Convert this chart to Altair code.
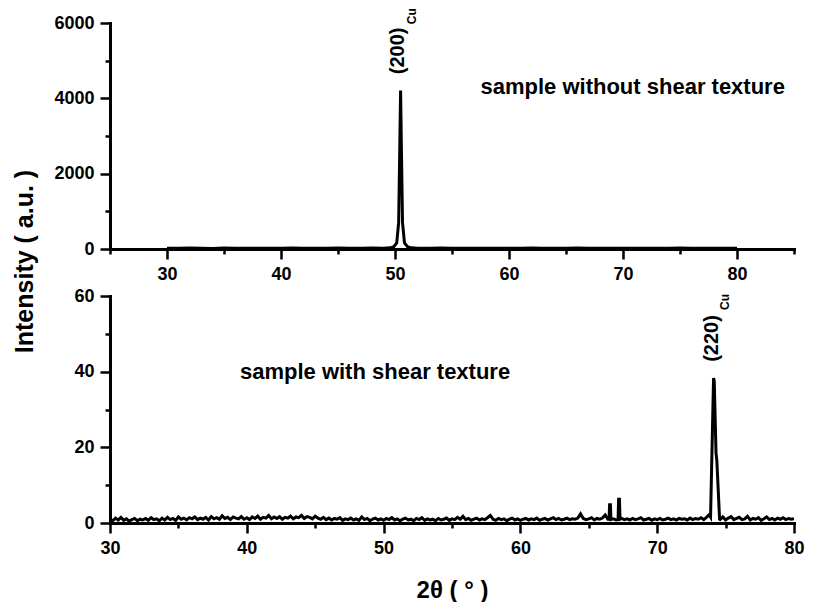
import altair as alt
import pandas as pd

FONT = "Liberation Sans"

# ---------------- top panel: sample without shear texture ----------------
top_base_x = list(range(30, 81))
top_base_y = [22, 18, 25, 20, 16, 24, 19, 21, 17, 23,
              20, 26, 18, 22, 19, 25, 21, 17, 24, 20,
              28, 34, 22, 19, 25, 20, 18, 23, 21, 17,
              22, 19, 24, 20, 18, 21, 25, 19, 22, 17,
              20, 23, 18, 21, 19, 24, 20, 22, 18, 21, 19]
top_peak_x = [49.6, 49.9, 50.15, 50.32, 50.42, 50.49, 50.56, 50.66, 50.83, 51.1, 51.4]
top_peak_y = [30, 60, 160, 700, 2700, 4210, 2700, 700, 160, 60, 30]

# ---------------- bottom panel: sample with shear texture ----------------
bot_base_y = [
    1.0, 0.6, 1.3, 0.8, 1.5, 0.7, 1.1, 0.5, 0.9, 1.2,
    0.6, 1.0, 0.8, 1.2, 0.7, 1.4, 0.9, 1.1, 0.6, 1.3,
    0.8, 1.5, 0.9, 1.2, 0.7, 1.6, 1.0, 1.3, 0.8, 1.4,
    1.1, 1.6, 0.9, 1.3, 1.0, 1.5, 0.8, 1.7, 1.1, 1.4,
    1.0, 1.9, 1.2, 1.5, 0.9, 1.6, 1.3, 1.1, 1.7, 1.0,
    1.4, 0.9, 1.6, 1.2, 1.8, 1.0, 1.5, 1.3, 2.0, 1.1,
    1.6, 1.2, 1.7, 1.0, 1.5, 1.3, 1.8, 1.1, 1.6, 1.4,
    2.0, 1.2, 1.7, 1.5, 1.1, 1.8, 1.3, 1.0, 1.5, 0.9,
    1.3, 0.8, 1.2, 1.0, 1.4, 0.7, 1.1, 0.9, 1.3, 0.8,
    1.1, 0.7, 1.6, 0.9, 1.2, 0.6, 1.0, 1.3, 0.8, 1.1,
    0.7, 1.2, 0.9, 1.4, 0.8, 1.1, 0.6, 1.0, 1.3, 0.8,
    1.0, 0.6, 1.2, 0.9, 1.4, 0.7, 1.1, 0.8, 1.0, 0.6,
    1.2, 0.8, 1.0, 1.3, 0.7, 1.1, 0.9, 1.5, 1.0, 1.8,
    0.9, 1.2, 0.7, 1.0, 1.3, 0.8, 1.1, 0.9, 1.4, 2.0,
    1.0, 0.7, 1.2, 0.9, 1.1, 0.6, 1.0, 1.3, 0.8, 1.1,
    0.7, 1.0, 1.2, 0.8, 1.1, 0.9, 1.3, 0.7, 1.0, 1.2,
    0.8, 1.1, 1.4, 0.9, 1.2, 0.8, 1.0, 1.3, 0.9, 1.1,
    1.0, 1.3, 2.4, 1.2, 0.9, 1.1, 1.4, 0.8, 1.2, 1.0,
    1.3, 2.1, 1.0, 0.9, 1.1, 0.8, 1.0, 1.2, 0.9, 1.1,
    0.8, 1.2, 0.9, 1.1, 1.4, 0.8, 1.0, 1.2, 0.7, 1.1,
    0.9, 1.2, 0.8, 1.0, 1.3, 0.9, 1.1, 0.8, 1.2, 1.0,
    1.1, 0.8, 1.3, 0.9, 1.2, 1.0, 1.4, 0.9, 1.5, 2.2,
    1.0, 1.0, 1.0, 0.9, 1.6, 0.8, 1.3, 1.7, 0.9, 1.2,
    1.5, 0.9, 1.1, 1.8, 0.8, 1.2, 1.0, 1.4, 0.7, 1.1,
    1.6, 0.9, 1.2, 0.8, 1.3, 1.0, 1.4, 0.9, 1.2, 1.0,
    1.1,
]
bot_base_x = [round(30 + 0.2 * i, 1) for i in range(len(bot_base_y))]
peak1_x = [66.48, 66.52, 66.58, 66.62]
peak1_y = [1.0, 4.8, 4.8, 0.9]
peak2_x = [67.14, 67.18, 67.24, 67.28]
peak2_y = [0.9, 6.3, 6.3, 1.0]
peak3_x = [73.9, 74.12, 74.17, 74.3, 74.36, 74.56]
peak3_y = [1.6, 38.3, 37.5, 18.5, 16.5, 1.0]

# ---------------- annotations ----------------
top_note_x, top_note_y, top_note_text = [57.5], [4290], ["sample without shear texture"]
top_hkl_x, top_hkl_y, top_hkl_text = [50.25], [4640], ["(200)"]
top_sub_x, top_sub_y, top_sub_text = [51.45], [5970], ["Cu"]
bot_note_x, bot_note_y, bot_note_text = [39.5], [40], ["sample with shear texture"]
bot_hkl_x, bot_hkl_y, bot_hkl_text = [74.0], [42.6], ["(220)"]
bot_sub_x, bot_sub_y, bot_sub_text = [74.95], [56.3], ["Cu"]


def merge(base_x, base_y, peaks):
    rows = []
    spans = [(min(px), max(px)) for px, _ in peaks]
    for x, y in zip(base_x, base_y):
        if not any(lo <= x <= hi for lo, hi in spans):
            rows.append((x, y))
    for px, py in peaks:
        rows.extend(zip(px, py))
    rows.sort()
    return pd.DataFrame(rows, columns=["x", "y"])


top_df = merge(top_base_x, top_base_y, [(top_peak_x, top_peak_y)])
bot_df = merge(bot_base_x, bot_base_y,
               [(peak1_x, peak1_y), (peak2_x, peak2_y), (peak3_x, peak3_y)])


def axis(values, test, fmt=None, **kw):
    opts = dict(
        values=values,
        tickSize={"condition": {"test": test, "value": 10}, "value": 5},
        labelExpr=f"({test}) ? datum.label : ''",
        domainWidth=3, domainColor="black", domainCap="square",
        tickColor="black", tickWidth=2.5,
        labelFont=FONT, labelFontSize=18, labelFontWeight="bold",
        labelColor="black", labelFlush=False, labelOverlap=False,
        labelPadding=6, grid=False,
        titleFont=FONT, titleFontWeight="bold", titleColor="black",
    )
    if fmt:
        opts["format"] = fmt
    opts.update(kw)
    return alt.Axis(**opts)


def texts(xs, ys, labels, xenc, yenc, size, angle=0):
    df = pd.DataFrame({"x": xs, "y": ys, "t": labels})
    return alt.Chart(df).mark_text(
        font=FONT, fontSize=size, fontWeight="bold", color="black",
        align="left", baseline="middle", angle=angle,
    ).encode(x=xenc, y=yenc, text="t:N")


W = 684
# top panel
xs_top = alt.Scale(domain=[25, 85], nice=False, zero=False)
ys_top = alt.Scale(domain=[0, 6000], nice=False)
x_top = alt.X("x:Q", scale=xs_top,
              axis=axis(list(range(25, 86, 5)), "datum.value % 10 === 0", title=None))
y_top = alt.Y("y:Q", scale=ys_top,
              axis=axis(list(range(0, 6001, 1000)), "datum.value % 2000 === 0", fmt="d",
                        title="Intensity ( a.u. )", titleFontSize=25, titleY=238,
                        titlePadding=16))
top_line = alt.Chart(top_df).mark_line(color="black", strokeWidth=3).encode(x=x_top, y=y_top)
top = alt.layer(
    top_line,
    texts(top_note_x, top_note_y, top_note_text, x_top, y_top, 22),
    texts(top_hkl_x, top_hkl_y, top_hkl_text, x_top, y_top, 20, angle=270),
    texts(top_sub_x, top_sub_y, top_sub_text, x_top, y_top, 12, angle=270),
).properties(width=W, height=226)

# bottom panel
xs_bot = alt.Scale(domain=[30, 80], nice=False, zero=False)
ys_bot = alt.Scale(domain=[0, 60], nice=False)
x_bot = alt.X("x:Q", scale=xs_bot,
              axis=axis(list(range(30, 81, 5)), "datum.value % 10 === 0",
                        title="2θ ( ° )", titleFontSize=24, titlePadding=21))
y_bot = alt.Y("y:Q", scale=ys_bot,
              axis=axis(list(range(0, 61, 10)), "datum.value % 20 === 0", fmt="d", title=None))
bot_line = alt.Chart(bot_df).mark_line(color="black", strokeWidth=3).encode(x=x_bot, y=y_bot)
bottom = alt.layer(
    bot_line,
    texts(bot_note_x, bot_note_y, bot_note_text, x_bot, y_bot, 22),
    texts(bot_hkl_x, bot_hkl_y, bot_hkl_text, x_bot, y_bot, 20, angle=270),
    texts(bot_sub_x, bot_sub_y, bot_sub_text, x_bot, y_bot, 12, angle=270),
).properties(width=W, height=227)

chart = alt.vconcat(top, bottom, spacing=47, bounds="flush").properties(
    padding={"left": 4, "top": 0, "right": 0, "bottom": 0},
    background="white",
).configure_view(stroke=None)

chart.save("out.html", embed_options={"renderer": "svg", "actions": False})
